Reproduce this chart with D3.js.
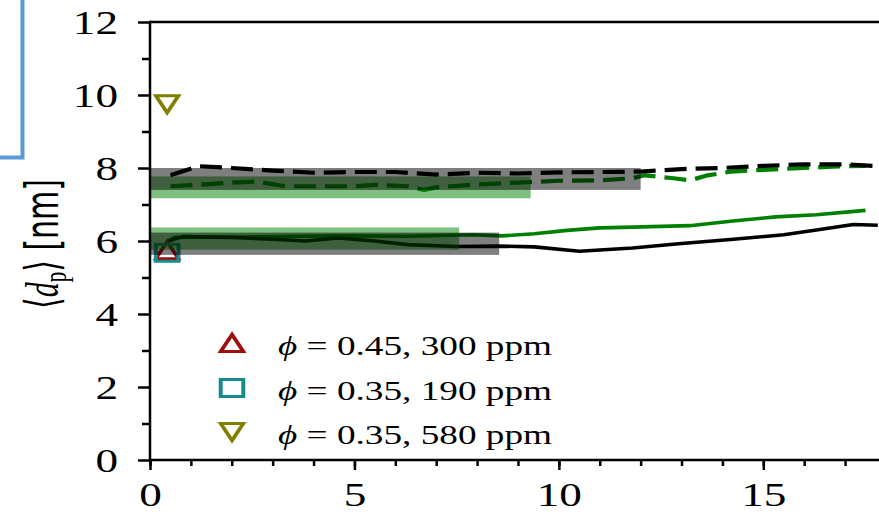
<!DOCTYPE html>
<html>
<head>
<meta charset="utf-8">
<script src="https://cdn.jsdelivr.net/npm/d3@7"></script>
<style>
  body { margin: 0; background: #fff; }
  svg { display: block; }
</style>
</head>
<body>
<div id="chart"></div>
<script>
// tick values
const xTicks = [0, 5, 10, 15];
const xMinor = d3.range(0, 19, 1);
const yTicks = [0, 2, 4, 6, 8, 10, 12];
const yMinor = [1, 3, 5, 7, 9, 11];

// dashed lines (upper pair)
const blackDashX = [0.5, 1.2, 2, 3, 4, 5, 6, 7, 8, 9, 10, 11, 12, 13, 14, 15, 16, 17, 17.8];
const blackDashY = [7.8, 8.05, 8.0, 7.93, 7.87, 7.89, 7.89, 7.82, 7.87, 7.85, 7.88, 7.89, 7.9, 7.97, 8.0, 8.06, 8.1, 8.1, 8.05];
const greenDashX = [0.5, 1.2, 2, 2.6, 3.3, 4, 5, 5.5, 6.3, 6.7, 7, 8, 9, 10, 11, 11.8, 12.1, 12.8, 13.2, 13.6, 14.2, 15, 16, 16.7, 17.5];
const greenDashY = [7.5, 7.54, 7.6, 7.63, 7.5, 7.5, 7.5, 7.54, 7.5, 7.4, 7.47, 7.55, 7.6, 7.65, 7.66, 7.72, 7.8, 7.72, 7.66, 7.79, 7.9, 7.95, 8.0, 8.04, 8.06];

// solid lines (lower pair)
const blackSolidX = [0.45, 0.8, 2, 3, 3.8, 4.6, 5.5, 6.3, 7.5, 8.5, 9.4, 10.5, 11.8, 13, 14.2, 15.5, 16.3, 17.2, 17.8];
const blackSolidY = [6.0, 6.12, 6.1, 6.05, 6.0, 6.08, 6.0, 5.9, 5.85, 5.86, 5.84, 5.72, 5.81, 5.93, 6.04, 6.17, 6.3, 6.45, 6.43];
const greenSolidX = [0.45, 0.6, 2.2, 3.8, 4.6, 6.3, 7.9, 8.6, 9.4, 10.2, 11, 11.8, 13.2, 14.2, 15.3, 16.3, 17.5];
const greenSolidY = [6.0, 6.1, 6.11, 6.13, 6.14, 6.13, 6.17, 6.14, 6.2, 6.29, 6.36, 6.38, 6.42, 6.54, 6.66, 6.72, 6.84];

// shaded bands: x from 0 to bandEnd, y from bandLow to bandHigh
const bandEnd  = [9.31, 7.56, 12.0, 8.54];
const bandLow  = [7.17, 5.76, 7.4, 5.62];
const bandHigh = [7.77, 6.37, 8.0, 6.23];
const bandColor = ['green', 'green', 'black', 'black'];

// single experimental points
const pointX = [0.42, 0.42, 0.42];
const pointY = [5.75, 5.68, 9.75];
const pointShape = ['up', 'square', 'down'];
const pointColor = ['#a00d0d', '#178c8c', '#808000'];
const legendLabels = ['0.45, 300 ppm', '0.35, 190 ppm', '0.35, 580 ppm'];

const width = 879, height = 512;
const sx = 1.33; // the figure is stretched horizontally

const svg = d3.select('#chart').append('svg')
  .attr('width', width)
  .attr('height', height);

const x = d3.scaleLinear().domain([0, 15]).range([150, 763.3]);
const y = d3.scaleLinear().domain([0, 12]).range([460, 22]);
const xEnd = x.invert(width + 10);

// blue box in the corner
svg.append('rect')
  .attr('x', -10).attr('y', -10)
  .attr('width', 32.5).attr('height', 167.5)
  .attr('fill', 'none')
  .attr('stroke', '#5b9bd5')
  .attr('stroke-width', 4);

function markerPath(shape) {
  const p = d3.path();
  const h = 8.5;
  if (shape === 'up') {
    p.moveTo(0, -h); p.lineTo(h, h); p.lineTo(-h, h); p.closePath();
  } else if (shape === 'down') {
    p.moveTo(0, h); p.lineTo(h, -h); p.lineTo(-h, -h); p.closePath();
  } else {
    p.rect(-h, -h, 2 * h, 2 * h);
  }
  return p.toString();
}

const line = d3.line().x(d => x(d[0])).y(d => y(d[1]));

// lines
const series = [
  { xs: greenSolidX, ys: greenSolidY, color: 'green', dash: null },
  { xs: blackSolidX, ys: blackSolidY, color: 'black', dash: null },
  { xs: greenDashX, ys: greenDashY, color: 'green', dash: '22,9' },
  { xs: blackDashX, ys: blackDashY, color: 'black', dash: '22,9' }
];
series.forEach(s => {
  svg.append('path')
    .attr('d', line(d3.zip(s.xs, s.ys)))
    .attr('fill', 'none')
    .attr('stroke', s.color)
    .attr('stroke-width', s.dash ? 4.2 : 3.6)
    .attr('stroke-dasharray', s.dash)
    .attr('stroke-linejoin', 'round');
});

// points
svg.selectAll('.pt')
  .data(d3.range(pointX.length))
  .enter()
  .append('path')
  .attr('class', 'pt')
  .attr('d', i => markerPath(pointShape[i]))
  .attr('transform', i => `translate(${x(pointX[i])},${y(pointY[i])}) scale(${sx},1)`)
  .attr('fill', 'none')
  .attr('stroke', i => pointColor[i])
  .attr('stroke-width', 3);

// bands on top
svg.selectAll('.band')
  .data(d3.range(bandEnd.length))
  .enter()
  .append('rect')
  .attr('class', 'band')
  .attr('x', x(0))
  .attr('width', i => x(bandEnd[i]) - x(0))
  .attr('y', i => y(bandHigh[i]))
  .attr('height', i => y(bandLow[i]) - y(bandHigh[i]))
  .attr('fill', i => bandColor[i])
  .attr('fill-opacity', 0.5);

// axes
const serif = '"Liberation Serif", "Times New Roman", serif';
const xAxis = svg.append('g').attr('transform', `translate(0,${y(0)})`);
xAxis.append('g').call(d3.axisBottom(x).tickValues(xMinor).tickSize(6).tickFormat(''));
xAxis.append('g').call(d3.axisBottom(x).tickValues(xTicks).tickSize(10));
xAxis.selectAll('.domain').remove();
xAxis.selectAll('.tick line').attr('stroke', 'black').attr('stroke-width', 2.5);
xAxis.selectAll('text')
  .attr('y', 0).attr('dy', 0)
  .attr('transform', `translate(0,46) scale(${sx},1)`)
  .attr('font-family', serif)
  .attr('font-size', 34)
  .attr('fill', 'black');

const yAxis = svg.append('g').attr('transform', `translate(${x(0)},0)`);
yAxis.append('g').call(d3.axisLeft(y).tickValues(yMinor).tickSize(8).tickFormat(''));
yAxis.append('g').call(d3.axisLeft(y).tickValues(yTicks).tickSize(12));
yAxis.selectAll('.domain').remove();
yAxis.selectAll('.tick line').attr('stroke', 'black').attr('stroke-width', 2.5);
yAxis.selectAll('text')
  .attr('x', 0).attr('dy', '0.34em')
  .attr('transform', `translate(-32,0) scale(${sx},1)`)
  .attr('font-family', serif)
  .attr('font-size', 34)
  .attr('fill', 'black');

// spines
svg.append('line')
  .attr('x1', x(0)).attr('x2', x(xEnd)).attr('y1', y(0)).attr('y2', y(0))
  .attr('stroke', 'black').attr('stroke-width', 2.5);
svg.append('line')
  .attr('x1', x(0)).attr('x2', x(xEnd)).attr('y1', y(12)).attr('y2', y(12))
  .attr('stroke', 'black').attr('stroke-width', 2.5);
svg.append('line')
  .attr('x1', x(0)).attr('x2', x(0)).attr('y1', y(12) - 1.25).attr('y2', y(0) + 1.25)
  .attr('stroke', 'black').attr('stroke-width', 2.5);

// y label
const yl = svg.append('text')
  .attr('transform', 'translate(58,244) scale(1.55,1) rotate(-90)')
  .attr('text-anchor', 'middle')
  .attr('font-size', 30)
  .attr('fill', 'black');
yl.append('tspan').attr('font-family', '"DejaVu Serif", serif').text('\u27E8');
yl.append('tspan').attr('font-family', serif).attr('font-style', 'italic').text('d');
yl.append('tspan').attr('font-family', serif).attr('font-size', 21).attr('dy', 5).text('p');
yl.append('tspan').attr('font-family', '"DejaVu Serif", serif').attr('dy', -5).text('\u27E9');
yl.append('tspan').attr('font-family', '"DejaVu Sans", sans-serif').text('\u00A0[nm]');

// legend
const legendY = [343, 388, 432];
const leg = svg.append('g');
legendLabels.forEach((lab, i) => {
  leg.append('path')
    .attr('d', markerPath(pointShape[i]))
    .attr('transform', `translate(232,${legendY[i]}) scale(${sx},1)`)
    .attr('fill', 'none')
    .attr('stroke', pointColor[i])
    .attr('stroke-width', 3);
  const t = leg.append('text')
    .attr('transform', `translate(278,${legendY[i] + 12}) scale(${sx},1)`)
    .attr('font-family', serif)
    .attr('font-size', 28)
    .attr('fill', 'black');
  t.append('tspan').attr('font-style', 'italic').text('\u03D5');
  t.append('tspan').text('\u00A0=\u00A0' + lab);
});
</script>
</body>
</html>
